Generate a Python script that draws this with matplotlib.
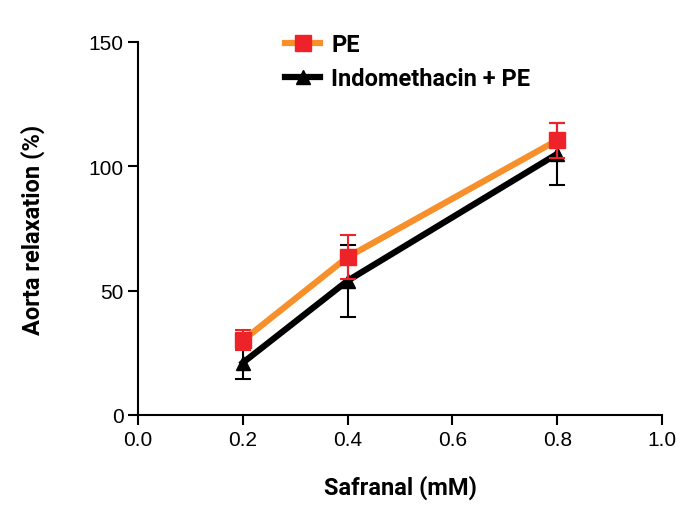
import matplotlib
matplotlib.use('Agg')
import matplotlib.pyplot as plt
from matplotlib.lines import Line2D

# Данные
conc = [0.2, 0.4, 0.8]
pe_mean = [30, 63.5, 110.5]
pe_err = [4, 9, 7]
indo_mean = [21, 54, 105]
indo_err = [6.5, 14.5, 12.5]

orange = '#f7902a'
red = '#ee2229'
label_font = {'family': ['Roboto', 'DejaVu Sans'], 'weight': 'bold', 'stretch': 'condensed'}

fig = plt.figure(figsize=(6.93, 5.1), dpi=100)
ax = fig.add_axes([138 / 693, 1 - 416 / 510, (662 - 138) / 693, (416 - 43) / 510])

ax.errorbar(conc, indo_mean, yerr=indo_err, color='black', lw=4.5, marker='^',
            markersize=10, ecolor='black', elinewidth=1.5, capsize=6, capthick=1.5,
            zorder=2)
ax.errorbar(conc, pe_mean, yerr=pe_err, color=orange, lw=4.5, marker='s',
            markersize=11, markerfacecolor=red, markeredgecolor=red,
            ecolor=red, elinewidth=1.5, capsize=6, capthick=1.5, zorder=3)

ax.set_xlim(0, 1.0)
ax.set_ylim(0, 150)
ax.set_xticks([0.0, 0.2, 0.4, 0.6, 0.8, 1.0])
ax.set_xticklabels(['0.0', '0.2', '0.4', '0.6', '0.8', '1.0'])
ax.set_yticks([0, 50, 100, 150])
ax.spines['top'].set_visible(False)
ax.spines['right'].set_visible(False)
ax.spines['left'].set_linewidth(1.5)
ax.spines['bottom'].set_linewidth(1.5)
ax.tick_params(direction='out', length=7, width=1.5, labelsize=15)
for lab in ax.get_xticklabels() + ax.get_yticklabels():
    lab.set_family(['Liberation Sans', 'DejaVu Sans'])

ax.set_xlabel('Safranal (mM)', fontsize=17, labelpad=19, **label_font)
ax.set_ylabel('Aorta relaxation (%)', fontsize=17, labelpad=31, **label_font)

handles = [
    Line2D([], [], color=orange, lw=4.5, marker='s', markersize=11,
           markerfacecolor=red, markeredgecolor=red),
    Line2D([], [], color='black', lw=4.5, marker='^', markersize=10),
]
ax.legend(handles, ['PE', 'Indomethacin + PE'], loc='upper left',
          bbox_to_anchor=(0.24, 1.08), frameon=False, handlelength=1.5,
          handletextpad=0.45, labelspacing=0.45,
          prop={'family': ['Roboto', 'DejaVu Sans'], 'weight': 'bold', 'size': 17})

fig.savefig('out.png', dpi=100)
